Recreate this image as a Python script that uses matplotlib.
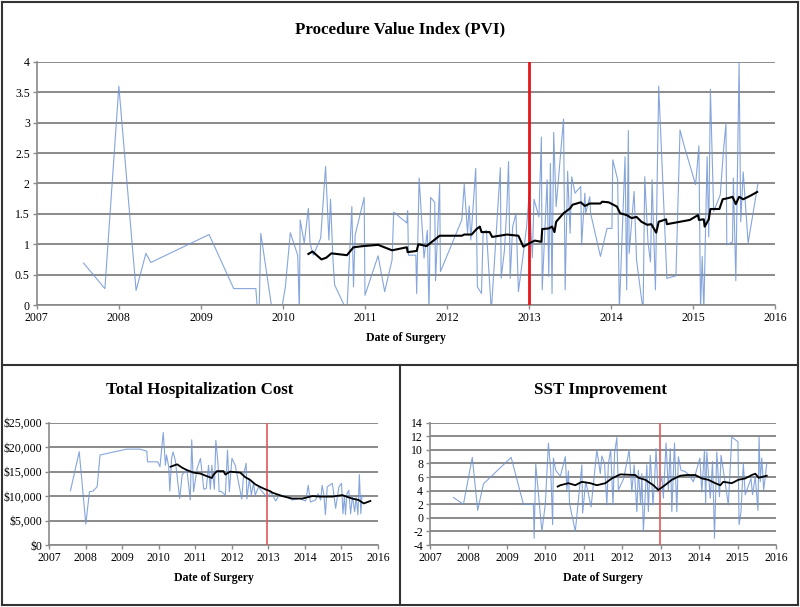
import matplotlib.pyplot as plt
from matplotlib.ticker import FuncFormatter
from matplotlib.lines import Line2D

# PVI raw values (date as decimal year)
pvi_year = [2007.57, 2007.83, 2008.00, 2008.21, 2008.33, 2008.39, 2009.10, 2009.40, 2009.67,
            2009.69, 2009.71, 2009.73, 2009.87, 2009.98, 2010.03, 2010.09, 2010.18, 2010.20,
            2010.21, 2010.26, 2010.31, 2010.33, 2010.37, 2010.46, 2010.52, 2010.56, 2010.58,
            2010.61, 2010.63, 2010.78, 2010.84, 2010.86, 2010.88, 2010.99, 2011.00, 2011.16,
            2011.24, 2011.33, 2011.35, 2011.51, 2011.52, 2011.53, 2011.62, 2011.63, 2011.66,
            2011.72, 2011.76, 2011.78, 2011.80, 2011.85, 2011.86, 2011.91, 2011.92, 2012.18,
            2012.21, 2012.25, 2012.27, 2012.29, 2012.35, 2012.37, 2012.42, 2012.44, 2012.48,
            2012.54, 2012.62, 2012.65, 2012.66, 2012.70, 2012.73, 2012.75, 2012.77, 2012.80,
            2012.84, 2012.87, 2012.92, 2012.97, 2013.00, 2013.04, 2013.06, 2013.12, 2013.15,
            2013.16, 2013.22, 2013.24, 2013.26, 2013.28, 2013.30, 2013.33, 2013.42, 2013.44,
            2013.47, 2013.50, 2013.52, 2013.56, 2013.63, 2013.64, 2013.68, 2013.69, 2013.74,
            2013.75, 2013.87, 2013.95, 2014.01, 2014.02, 2014.08, 2014.10, 2014.17, 2014.19,
            2014.21, 2014.22, 2014.28, 2014.31, 2014.39, 2014.41, 2014.45, 2014.48, 2014.50,
            2014.54, 2014.58, 2014.68, 2014.79, 2014.84, 2014.89, 2015.03, 2015.07, 2015.09,
            2015.11, 2015.13, 2015.17, 2015.19, 2015.21, 2015.25, 2015.33, 2015.37, 2015.40,
            2015.41, 2015.48, 2015.49, 2015.52, 2015.56, 2015.58, 2015.61, 2015.67, 2015.79]
pvi_val = [0.69, 0.27, 3.60, 0.24, 0.85, 0.70, 1.16, 0.27, 0.27,
           -0.1, -0.1, 1.18, -0.1, -0.1, 0.30, 1.19, 0.82, -0.1,
           1.40, 1.02, 1.59, 1.02, 0.82, 1.10, 2.28, 1.07, 1.74,
           0.74, 0.33, -0.1, 1.62, 0.30, 1.15, 1.77, 0.16, 0.81,
           0.22, 0.74, 1.53, 1.35, 1.55, 0.82, 0.82, 0.19, 2.09,
           0.77, 1.23, -0.1, 1.77, 1.69, 0.40, 1.99, 0.55, 1.40,
           1.99, 1.18, 1.63, 1.07, 2.25, 0.30, 0.19, 1.18, 1.23,
           -0.1, 1.62, 2.26, 0.44, 0.90, 1.63, 2.36, 0.44, 1.29,
           1.50, 0.22, 0.74, 1.29, 1.81, 0.78, 1.74, 1.45, 2.76,
           0.25, 2.06, 0.47, 2.33, 0.19, 2.84, 1.62, 3.06, 0.25,
           2.20, 1.18, 2.11, 1.84, 1.95, 0.99, 1.84, 1.51, 1.78,
           1.51, 0.80, 1.26, 1.26, 2.39, 2.06, -0.1, 2.44, 0.25,
           2.87, 0.85, 1.87, 0.74, -0.1, 2.11, 1.02, 0.71, 2.06,
           0.25, 3.60, 0.44, 0.48, 2.88, 2.62, 1.98, 2.62, -0.1,
           0.80, -0.1, 2.44, 1.12, 3.55, 1.54, 1.81, 2.55, 2.99,
           0.99, 1.04, 2.09, 0.40, 4.00, 1.37, 2.19, 1.02, 2.00]

# PVI moving average
pvi_ma_year = [2010.31, 2010.36, 2010.47, 2010.53, 2010.59, 2010.78, 2010.86, 2010.98, 2011.16,
               2011.33, 2011.51, 2011.52, 2011.63, 2011.65, 2011.75, 2011.91, 2012.18, 2012.21,
               2012.30, 2012.36, 2012.40, 2012.42, 2012.52, 2012.55, 2012.73, 2012.87, 2012.93,
               2013.01, 2013.07, 2013.15, 2013.16, 2013.24, 2013.28, 2013.31, 2013.33, 2013.42,
               2013.50, 2013.53, 2013.63, 2013.68, 2013.74, 2013.87, 2013.89, 2013.97, 2014.07,
               2014.11, 2014.19, 2014.25, 2014.31, 2014.37, 2014.44, 2014.49, 2014.55, 2014.58,
               2014.67, 2014.68, 2014.84, 2014.96, 2015.06, 2015.07, 2015.13, 2015.14, 2015.19,
               2015.21, 2015.32, 2015.36, 2015.43, 2015.48, 2015.52, 2015.56, 2015.61, 2015.70,
               2015.78]
pvi_ma_val = [0.84, 0.88, 0.75, 0.78, 0.85, 0.82, 0.95, 0.97, 0.99,
              0.90, 0.95, 0.87, 0.89, 1.00, 0.97, 1.14, 1.14, 1.16,
              1.16, 1.25, 1.29, 1.20, 1.20, 1.12, 1.16, 1.14, 0.96,
              1.02, 1.06, 1.04, 1.25, 1.26, 1.29, 1.20, 1.37, 1.51,
              1.59, 1.65, 1.69, 1.63, 1.67, 1.67, 1.70, 1.69, 1.62,
              1.51, 1.48, 1.43, 1.45, 1.37, 1.32, 1.33, 1.19, 1.37,
              1.41, 1.33, 1.37, 1.40, 1.48, 1.40, 1.41, 1.29, 1.41,
              1.58, 1.58, 1.74, 1.76, 1.78, 1.66, 1.78, 1.74, 1.80,
              1.86]

# Total hospitalization cost
cost_year = [2007.58, 2007.82, 2008.00, 2008.10, 2008.20, 2008.31, 2008.39, 2009.12, 2009.48,
             2009.67, 2009.69, 2009.97, 2010.03, 2010.12, 2010.18, 2010.21, 2010.27, 2010.30,
             2010.35, 2010.39, 2010.45, 2010.57, 2010.64, 2010.77, 2010.86, 2010.90, 2010.95,
             2011.05, 2011.14, 2011.23, 2011.30, 2011.36, 2011.41, 2011.45, 2011.52, 2011.56,
             2011.62, 2011.65, 2011.70, 2011.82, 2011.88, 2011.93, 2012.00, 2012.09, 2012.27,
             2012.32, 2012.39, 2012.41, 2012.48, 2012.53, 2012.59, 2012.64, 2012.73, 2012.82,
             2012.91, 2012.97, 2013.06, 2013.20, 2013.29, 2013.47, 2013.65, 2013.84, 2014.02,
             2014.09, 2014.15, 2014.29, 2014.36, 2014.43, 2014.47, 2014.52, 2014.56, 2014.61,
             2014.75, 2014.84, 2014.93, 2015.00, 2015.04, 2015.08, 2015.11, 2015.15, 2015.20,
             2015.25, 2015.30, 2015.36, 2015.40, 2015.45, 2015.49, 2015.53, 2015.56, 2015.60]
cost_val = [11100, 19070, 4290, 10900, 11030, 11900, 18400, 19600, 19600,
            19200, 17000, 17000, 16000, 23000, 16300, 18400, 16000, 11000,
            17800, 19000, 17300, 9500, 14400, 15300, 9200, 21500, 10900,
            15700, 17700, 11400, 11600, 16300, 11400, 16300, 11400, 21400,
            16700, 10900, 11000, 10200, 19400, 10900, 17700, 16300, 9400,
            14300, 16700, 9400, 13600, 10200, 12600, 10200, 11900, 11000,
            10200, 9700, 10900, 9000, 10200, 10000, 9200, 9500, 9000,
            12200, 8800, 9200, 10500, 9200, 12200, 10200, 6200, 11900,
            12600, 7500, 11900, 12600, 6400, 10000, 6200, 10500, 11200,
            6400, 10000, 6800, 9800, 6200, 14400, 6400, 10200, 9900]

cost_ma_year = [2010.32, 2010.50, 2010.64, 2010.77, 2010.95, 2011.14, 2011.27, 2011.45, 2011.50,
                2011.59, 2011.77, 2011.82, 2011.95, 2012.23, 2012.36, 2012.50, 2012.64, 2012.77,
                2012.91, 2013.05, 2013.11, 2013.38, 2013.65, 2013.93, 2014.20, 2014.47, 2014.75,
                2015.02, 2015.29, 2015.47, 2015.61, 2015.79]
cost_ma_val = [16000, 16500, 15800, 15300, 14800, 14600, 14200, 13700, 14400,
               15100, 15100, 14400, 15000, 14800, 13900, 13300, 12400, 11900,
               11400, 11000, 10700, 10000, 9500, 9500, 10000, 9900, 9900,
               10200, 9500, 9200, 8500, 9000]

# SST improvement
sst_year = [2007.61, 2007.87, 2008.10, 2008.24, 2008.39, 2009.11, 2009.43, 2009.69, 2009.71,
            2009.75, 2009.91, 2010.00, 2010.08, 2010.14, 2010.19, 2010.21, 2010.27, 2010.39,
            2010.52, 2010.56, 2010.60, 2010.63, 2010.78, 2010.95, 2010.97, 2011.05, 2011.10,
            2011.19, 2011.34, 2011.43, 2011.47, 2011.54, 2011.60, 2011.64, 2011.70, 2011.76,
            2011.80, 2011.86, 2011.90, 2012.04, 2012.18, 2012.25, 2012.31, 2012.38, 2012.42,
            2012.48, 2012.51, 2012.55, 2012.64, 2012.68, 2012.73, 2012.80, 2012.84, 2012.88,
            2012.93, 2013.03, 2013.07, 2013.14, 2013.20, 2013.25, 2013.29, 2013.36, 2013.42,
            2013.46, 2013.53, 2013.64, 2013.74, 2013.85, 2014.02, 2014.07, 2014.14, 2014.17,
            2014.20, 2014.29, 2014.35, 2014.40, 2014.46, 2014.53, 2014.57, 2014.68, 2014.76,
            2014.85, 2015.01, 2015.04, 2015.09, 2015.15, 2015.20, 2015.35, 2015.39, 2015.46,
            2015.53, 2015.56, 2015.59, 2015.63, 2015.68, 2015.76]
sst_val = [3.0, 2.0, 8.9, 1.1, 5.0, 8.9, 2.0, 2.0, -3.0,
           7.9, -2.0, 2.0, 11.0, 7.0, -1.0, 8.8, 7.0, 6.1,
           9.0, 4.1, 6.9, 2.1, -2.0, 7.8, 0.7, 5.3, 4.1,
           1.6, 10.0, 6.5, 9.1, 8.0, 1.9, 8.0, 10.0, 1.9,
           9.5, 11.8, 4.1, 5.8, 10.0, 3.8, 7.8, 0.9, 7.0,
           1.9, 6.5, -2.0, 7.8, 0.9, 9.2, 1.9, 5.3, 10.2,
           3.8, 6.1, 2.9, 11.0, 4.1, 10.2, 0.9, 11.0, 0.9,
           9.0, 7.0, 6.8, 6.3, 5.3, 8.8, 3.8, 10.0, 2.1,
           9.7, 2.9, 8.3, -3.0, 9.7, 3.1, 9.2, 5.1, 1.9,
           11.9, 11.2, -1.0, 0.9, 8.0, 3.4, 5.8, 3.4, 6.1,
           1.1, 11.9, 5.3, 8.8, 4.1, 8.0]

sst_ma_year = [2010.32, 2010.39, 2010.60, 2010.78, 2010.95, 2011.17, 2011.34, 2011.56, 2011.73,
               2011.95, 2012.34, 2012.42, 2012.60, 2012.81, 2012.94, 2013.11, 2013.29, 2013.51,
               2013.68, 2013.90, 2014.07, 2014.24, 2014.42, 2014.55, 2014.63, 2014.85, 2015.02,
               2015.20, 2015.37, 2015.46, 2015.55, 2015.76]
sst_ma_val = [4.6, 4.8, 5.1, 4.8, 5.3, 5.1, 4.8, 5.1, 5.8,
              6.4, 6.3, 5.9, 5.6, 4.8, 4.1, 4.8, 5.6, 6.2,
              6.3, 6.3, 5.8, 5.6, 5.1, 4.8, 5.3, 5.1, 5.6,
              5.8, 6.3, 6.5, 5.9, 6.2]

years = list(range(2007, 2017))
serif = "Liberation Serif"
blue = "#7196d6"
grid_c = "#8a8a8a"

fig = plt.figure(figsize=(8, 6.07), dpi=100)
fig.patch.set_facecolor("white")


def style_axes(ax, ylim, yticks, fmt, red_x, red_lw, red_c):
    ax.set_xlim(2007, 2016)
    ax.set_ylim(*ylim)
    ax.set_xticks(years)
    ax.set_xticklabels([str(y) for y in years], fontfamily=serif, fontsize=8.5)
    ax.set_yticks(yticks)
    ax.yaxis.set_major_formatter(FuncFormatter(fmt))
    for lab in ax.get_yticklabels():
        lab.set_fontfamily(serif)
        lab.set_fontsize(8.5)
    ax.grid(axis="y", color=grid_c, linewidth=1.4)
    ax.set_axisbelow(True)
    for s in ["top", "right"]:
        ax.spines[s].set_visible(False)
    for s in ["left", "bottom"]:
        ax.spines[s].set_color(grid_c)
        ax.spines[s].set_linewidth(1.2)
    ax.tick_params(axis="both", colors=grid_c, labelcolor="black", length=3, width=1, pad=2)
    ax.axvline(red_x, color=red_c, linewidth=red_lw, zorder=4)
    ax.set_xlabel("Date of Surgery", fontfamily=serif, fontweight="bold", fontsize=8.5, labelpad=6)


# top panel
ax1 = fig.add_axes([0.046, 0.4975, 0.923, 0.4005])
ax1.plot(pvi_year, pvi_val, color=blue, linewidth=0.8, alpha=0.85)
ax1.plot(pvi_ma_year, pvi_ma_val, color="black", linewidth=1.5, zorder=5)
style_axes(ax1, (0, 4), [0, 0.5, 1, 1.5, 2, 2.5, 3, 3.5, 4],
           lambda v, p: f"{v:g}", 2013.0, 2.0, "#e3151b")
fig.text(0.5, 0.951, "Procedure Value Index (PVI)", ha="center", va="center",
         fontfamily=serif, fontweight="bold", fontsize=12.2)

# bottom left
ax2 = fig.add_axes([0.0616, 0.1021, 0.4109, 0.2015])
ax2.plot(cost_year, cost_val, color=blue, linewidth=0.8, alpha=0.85)
ax2.plot(cost_ma_year, cost_ma_val, color="black", linewidth=1.3, zorder=5)
style_axes(ax2, (0, 25000), [0, 5000, 10000, 15000, 20000, 25000],
           lambda v, p: f"${v:,.0f}", 2012.97, 1.2, "#e05a5a")
fig.text(0.25, 0.357, "Total Hospitalization Cost", ha="center", va="center",
         fontfamily=serif, fontweight="bold", fontsize=12.2)

# bottom right
ax3 = fig.add_axes([0.5375, 0.1021, 0.4325, 0.2015])
ax3.plot(sst_year, sst_val, color=blue, linewidth=0.8, alpha=0.85)
ax3.plot(sst_ma_year, sst_ma_val, color="black", linewidth=1.3, zorder=5)
style_axes(ax3, (-4, 14), list(range(-4, 15, 2)),
           lambda v, p: f"{v:g}", 2012.97, 1.2, "#e05a5a")
fig.text(0.75, 0.357, "SST Improvement", ha="center", va="center",
         fontfamily=serif, fontweight="bold", fontsize=12.2)

# panel frames
frame_c = "#333333"
sep_y = 1 - 365 / 607
for xs, ys in [([0.003, 0.003], [0.003, 0.997]), ([0.997, 0.997], [0.003, 0.997]),
               ([0.003, 0.997], [0.997, 0.997]), ([0.003, 0.997], [0.003, 0.003]),
               ([0.003, 0.997], [sep_y, sep_y]), ([0.5, 0.5], [0.003, sep_y])]:
    fig.add_artist(Line2D(xs, ys, color=frame_c, linewidth=1.5, transform=fig.transFigure))

fig.savefig("out.png", dpi=100)
